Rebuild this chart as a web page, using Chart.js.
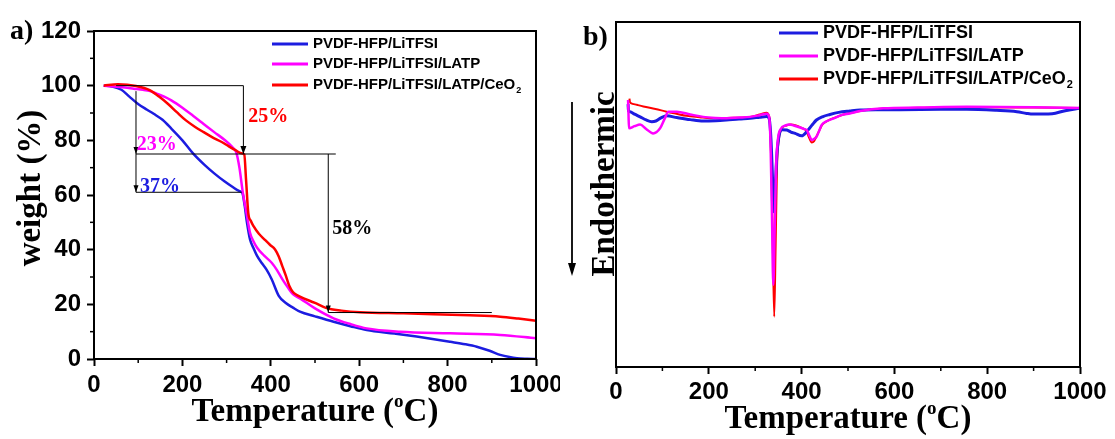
<!DOCTYPE html>
<html>
<head>
<meta charset="utf-8">
<script src="https://cdn.jsdelivr.net/npm/chart.js@4.4.0/dist/chart.umd.min.js"></script>
<style>
  html, body { margin: 0; padding: 0; background: #fff; }
  #wrap { position: relative; width: 1115px; height: 439px; overflow: hidden; background: #fff; }
  #wrap canvas { position: absolute; top: 0; }
  #tga { left: 0; width: 560px; height: 439px; }
  #dsc { left: 560px; width: 555px; height: 439px; }
</style>
</head>
<body>
<div id="wrap">
  <canvas id="tga" width="560" height="439"></canvas>
  <canvas id="dsc" width="555" height="439"></canvas>
</div>
<script>
// sample names, with the subscript part kept apart
const sampleNames = ['PVDF-HFP/LiTFSI', 'PVDF-HFP/LiTFSI/LATP', 'PVDF-HFP/LiTFSI/LATP/CeO'];
const sampleSubs = ['', '', '2'];
const sampleColors = ['#1c1ce0', '#ff00ff', '#ff0000'];

const tempTicks = [0, 200, 400, 600, 800, 1000];
const tempMinor = [100, 300, 500, 700, 900];
const weightTicks = [0, 20, 40, 60, 80, 100, 120];
const weightMinor = [10, 30, 50, 70, 90, 110];

// TGA curves: temperature (C) and weight (%)
const tgaTempLi = [22, 40, 62, 80, 99, 120, 135, 155, 175, 200, 224, 250, 272, 295, 313, 328, 336, 341, 346, 353,
  361, 369, 380, 390, 402, 418, 434, 450, 466, 500, 542, 580, 617, 680, 730, 806, 840, 866, 895, 919, 940, 957, 980, 1000];
const tgaWtLi = [100, 99.7, 98.5, 96, 93.4, 91.2, 89.7, 87.5, 84.3, 80, 75.2, 71, 67.9, 65, 63, 61.5, 60.6, 56, 50, 43.7,
  40.5, 37.7, 35, 32.8, 29.2, 23.1, 20.5, 18.8, 17.3, 15.6, 13.6, 12, 10.6, 9.3, 8.2, 6.3, 5.4, 4.5, 3, 1.5, 0.7, 0.3, 0.1, 0];

const tgaTempLatp = [22, 45, 70, 90, 111, 127, 143, 160, 175, 200, 224, 248, 272, 295, 313, 322, 329, 337, 345, 353,
  361, 369, 385, 402, 414, 426, 438, 450, 466, 500, 542, 580, 617, 693, 806, 919, 1000];
const tgaWtLatp = [100, 99.7, 99.3, 98.9, 98.5, 98, 97, 95.9, 94.6, 91.9, 89, 86, 83, 80.2, 77.5, 75.5, 70, 60.6, 53.5, 46.2,
  43, 40.7, 37.8, 35.2, 32.5, 29.2, 26.3, 23.7, 22.2, 18.5, 14.9, 12.8, 11.2, 10, 9.4, 8.8, 7.6];

const tgaTempCeo = [22, 54, 95, 127, 147, 167, 188, 208, 228, 248, 268, 289, 305, 321, 333, 340, 344, 349, 355, 361,
  373, 386, 398, 410, 418, 426, 434, 442, 450, 458, 466, 500, 526, 560, 602, 700, 768, 850, 919, 960, 1000];
const tgaWtCeo = [100, 100.5, 99.9, 98.3, 96, 93.4, 90.2, 87.3, 85, 83, 81.1, 79.4, 77.8, 76.3, 75.3, 74.8, 65.6, 53.5, 50.5, 48.6,
  45.8, 43.7, 41.8, 40, 37.5, 34, 30.5, 26.7, 24.5, 23.5, 22.8, 20.5, 18.6, 17.7, 17.1, 16.7, 16.4, 16, 15.5, 14.8, 14];

// DSC curves: temperature (C) and heat flow (arbitrary units)
const dscTempLi = [26, 27, 30, 40, 52, 65, 77, 86, 97, 109, 131, 160, 188, 215, 238, 265, 289, 310, 325, 330,
  334, 337, 340, 343, 347, 352, 358, 368, 377, 386, 400, 414, 423, 432, 446, 461, 480, 504, 526, 560,
  612, 700, 756, 820, 864, 885, 899, 920, 940, 968, 1000];
const dscHeatLi = [76.2, 74.2, 74.0, 73.3, 72.5, 71.6, 71.1, 71.3, 72.2, 72.8, 72.3, 71.7, 71.3, 71.4, 71.6, 71.9, 72.1, 72.4, 72.6, 72.0,
  66, 56, 45, 52, 62, 67.5, 68.8, 68.7, 68.1, 67.7, 67.0, 68.7, 70.2, 71.6, 72.6, 73.2, 73.8, 74.2, 74.5, 74.6,
  74.6, 74.7, 74.7, 74.4, 74.0, 73.5, 73.3, 73.3, 73.4, 74.3, 75.0];

const dscTempLatp = [26, 27, 28, 40, 52, 65, 80, 95, 105, 113, 131, 160, 188, 215, 238, 265, 289, 310, 325, 330,
  333, 336, 339, 342, 345, 349, 355, 365, 375, 383, 395, 405, 411, 417, 422, 428, 432, 438, 443, 455,
  468, 486, 504, 526, 576, 650, 756, 900, 1000];
const dscHeatLatp = [77.4, 73, 69.2, 69.8, 70.3, 69.0, 67.7, 69.2, 72.0, 74.0, 74.0, 73.2, 72.5, 72.2, 72.1, 72.3, 72.5, 73.0, 73.4, 72.5,
  65, 45, 23.8, 40, 58, 66, 69, 70, 70.3, 70, 69.5, 69, 68.7, 67, 65.8, 66.2, 66.7, 68.5, 70.1, 71.3,
  72, 73, 73.5, 74.2, 75, 75.2, 75.4, 75.3, 75.1];

const dscTempCeo = [29, 30, 32, 45, 59, 85, 109, 130, 152, 180, 203, 240, 289, 310, 325, 331, 334, 338, 341, 344,
  347, 351, 357, 367, 377, 388, 400, 410, 416, 422, 427, 432, 438, 445, 458, 470, 490, 510, 540, 600,
  700, 800, 900, 1000];
const dscHeatCeo = [77.8, 76.8, 76.5, 76.0, 75.5, 74.8, 74.0, 73.4, 72.8, 72.4, 72.1, 72.2, 72.5, 73.2, 73.7, 72, 62, 35, 14.6, 35,
  58, 66, 69, 70, 70.3, 70, 69.3, 68.5, 66.5, 65.1, 65.5, 66.8, 68.5, 70.3, 71.5, 72.2, 73.2, 73.8, 74.5, 75,
  75.2, 75.3, 75.2, 75.1];

// weight-loss markers on the TGA panel (weight levels, %)
const markTop = 100, markLeft = 98, markStep = 75, markLi = 61, markEnd = 17;
// marker temperatures (C)
const markLeftT = 95, markStepT = 338, markLiT = 334, markDropT = 530, markTopStartT = 50, markStepEndT = 547, markEndT = 900;

const serif = '"Liberation Serif", "Times New Roman", serif';
const sans = '"Liberation Sans", Arial, sans-serif';

function line(ctx, x1, y1, x2, y2) {
  ctx.beginPath(); ctx.moveTo(x1, y1); ctx.lineTo(x2, y2); ctx.stroke();
}
function arrowDown(ctx, x, y, w, h) {
  ctx.beginPath(); ctx.moveTo(x, y); ctx.lineTo(x - w / 2, y - h); ctx.lineTo(x + w / 2, y - h); ctx.closePath(); ctx.fill();
}

function fixedAxis(size, horizontal) {
  return scale => {
    if (horizontal) scale.height = size; else scale.width = size;
    scale.paddingLeft = scale.paddingRight = scale.paddingTop = scale.paddingBottom = 0;
  };
}

function makeSet(i, xs, ys, width, order) {
  return {
    label: sampleNames[i] + sampleSubs[i],
    data: xs.map((x, k) => ({ x, y: ys[k] })),
    borderColor: sampleColors[i],
    borderWidth: width,
    pointRadius: 0,
    fill: false,
    cubicInterpolationMode: 'monotone',
    order
  };
}

function tickAxis(min, max, values, size, padding) {
  return {
    type: 'linear', min, max,
    afterBuildTicks: s => { s.ticks = values.map(v => ({ value: v })); },
    grid: { drawOnChartArea: false, tickLength: 7, tickWidth: 2, tickColor: '#000' },
    border: { display: false },
    ticks: { color: '#000', padding, autoSkip: false, maxRotation: 0, font: { family: sans, size, weight: 'bold' }, callback: v => String(v) }
  };
}

function drawFrame(chart, minorX, minorY) {
  const { ctx, chartArea: a, scales } = chart;
  ctx.save();
  ctx.strokeStyle = '#000';
  ctx.lineWidth = 2;
  ctx.strokeRect(a.left, a.top, a.right - a.left, a.bottom - a.top);
  ctx.lineWidth = 1.5;
  minorX.forEach(v => { const x = scales.x.getPixelForValue(v); line(ctx, x, a.bottom, x, a.bottom + 4); });
  minorY.forEach(v => { const y = scales.y.getPixelForValue(v); line(ctx, a.left - 4, y, a.left, y); });
  ctx.restore();
}

function drawTempTitle(ctx, cx, baseline) {
  const big = 'bold 33px ' + serif, small = 'bold 19px ' + serif;
  const parts = [['Temperature (', big, 0], ['o', small, -14], ['C)', big, 0]];
  let total = 0;
  parts.forEach(p => { ctx.font = p[1]; total += ctx.measureText(p[0]).width; });
  let x = cx - total / 2;
  ctx.fillStyle = '#000';
  ctx.textAlign = 'left';
  ctx.textBaseline = 'alphabetic';
  parts.forEach(p => { ctx.font = p[1]; ctx.fillText(p[0], x, baseline + p[2]); x += ctx.measureText(p[0]).width; });
}

function rotatedText(ctx, text, cx, cy, font) {
  ctx.save();
  ctx.translate(cx, cy);
  ctx.rotate(-Math.PI / 2);
  ctx.font = font;
  ctx.fillStyle = '#000';
  ctx.textAlign = 'center';
  ctx.textBaseline = 'middle';
  ctx.fillText(text, 0, 0);
  ctx.restore();
}

function drawLegend(ctx, x0, x1, rows, size, lineW) {
  ctx.save();
  rows.forEach((y, i) => {
    ctx.strokeStyle = sampleColors[i];
    ctx.lineWidth = lineW;
    line(ctx, x0, y, x1, y);
    ctx.fillStyle = '#000';
    ctx.font = 'bold ' + size + 'px ' + sans;
    ctx.textAlign = 'left';
    ctx.textBaseline = 'middle';
    const tx = x1 + 5;
    ctx.fillText(sampleNames[i], tx, y);
    if (sampleSubs[i]) {
      const w = ctx.measureText(sampleNames[i]).width;
      ctx.font = 'bold ' + Math.round(size * 0.6) + 'px ' + sans;
      ctx.fillText(sampleSubs[i], tx + w + 1, y + size * 0.35);
    }
  });
  ctx.restore();
}

const tgaDecor = {
  id: 'tgaDecor',
  afterDraw(chart) {
    const { ctx } = chart;
    const sx = v => chart.scales.x.getPixelForValue(v);
    const sy = v => chart.scales.y.getPixelForValue(v);
    drawFrame(chart, tempMinor, weightMinor);

    // weight-loss guide lines and arrows
    ctx.save();
    ctx.strokeStyle = '#000';
    ctx.fillStyle = '#000';
    ctx.lineWidth = 1;
    line(ctx, sx(markTopStartT), sy(markTop), sx(markStepT), sy(markTop));
    line(ctx, sx(markStepT), sy(markTop), sx(markStepT), sy(markStep));
    arrowDown(ctx, sx(markStepT), sy(markStep), 6, 8);
    line(ctx, sx(markLeftT), sy(markLeft), sx(markLeftT), sy(markLi));
    arrowDown(ctx, sx(markLeftT), sy(markStep), 5, 7);
    arrowDown(ctx, sx(markLeftT), sy(markLi), 5, 7);
    line(ctx, sx(markLeftT), sy(markStep), sx(markStepEndT), sy(markStep));
    line(ctx, sx(markLeftT), sy(markLi), sx(markLiT), sy(markLi));
    line(ctx, sx(markDropT), sy(markStep), sx(markDropT), sy(markEnd));
    arrowDown(ctx, sx(markDropT), sy(markEnd), 5, 7);
    line(ctx, sx(markDropT), sy(markEnd), sx(markEndT), sy(markEnd));

    ctx.font = 'bold 20px ' + serif;
    ctx.textAlign = 'left';
    ctx.textBaseline = 'middle';
    ctx.fillStyle = sampleColors[2];
    ctx.fillText((markTop - markStep) + '%', sx(349), sy(88.5));
    ctx.fillStyle = sampleColors[1];
    ctx.fillText((markLeft - markStep) + '%', sx(97), sy(78.3));
    ctx.fillStyle = sampleColors[0];
    ctx.fillText((markLeft - markLi) + '%', sx(104), sy(63));
    ctx.fillStyle = '#000';
    ctx.fillText((markStep - markEnd) + '%', sx(539), sy(47.7));
    ctx.restore();

    drawLegend(ctx, 272, 308, [44, 64, 85], 15, 3);
    drawTempTitle(ctx, 315, 421);
    rotatedText(ctx, 'weight (%)', 31, 188, 'bold 33px ' + serif);
    ctx.save();
    ctx.fillStyle = '#000';
    ctx.font = 'bold 28px ' + serif;
    ctx.textAlign = 'left';
    ctx.textBaseline = 'alphabetic';
    ctx.fillText('a)', 10, 39);
    ctx.restore();
  }
};

const dscDecor = {
  id: 'dscDecor',
  afterDraw(chart) {
    const { ctx } = chart;
    drawFrame(chart, tempMinor, []);
    drawLegend(ctx, 219, 258, [33, 56, 79], 18, 3);
    drawTempTitle(ctx, 288, 428);
    rotatedText(ctx, 'Endothermic', 45, 184, 'bold 33px ' + serif);
    // endothermic direction arrow
    ctx.save();
    ctx.strokeStyle = '#000';
    ctx.fillStyle = '#000';
    ctx.lineWidth = 1.8;
    line(ctx, 12, 102, 12, 265);
    arrowDown(ctx, 12, 276, 8, 13);
    ctx.font = 'bold 28px ' + serif;
    ctx.textAlign = 'left';
    ctx.textBaseline = 'alphabetic';
    ctx.fillText('b)', 23, 45);
    ctx.restore();
  }
};

new Chart(document.getElementById('tga'), {
  type: 'line',
  data: {
    datasets: [
      makeSet(0, tgaTempLi, tgaWtLi, 2.5, 2),
      makeSet(1, tgaTempLatp, tgaWtLatp, 2.5, 1),
      makeSet(2, tgaTempCeo, tgaWtCeo, 2.5, 0)
    ]
  },
  options: {
    responsive: false,
    animation: false,
    events: [],
    layout: { padding: { left: 0, top: 31, right: 24, bottom: 0 } },
    plugins: { legend: { display: false }, tooltip: { enabled: false } },
    scales: {
      x: Object.assign(tickAxis(0, 1000, tempTicks, 24, 5), { afterFit: fixedAxis(80, true) }),
      y: Object.assign(tickAxis(0, 120, weightTicks, 24, 6), { afterFit: fixedAxis(94, false) })
    }
  },
  plugins: [tgaDecor]
});

new Chart(document.getElementById('dsc'), {
  type: 'line',
  data: {
    datasets: [
      makeSet(0, dscTempLi, dscHeatLi, 3, 1),
      makeSet(1, dscTempLatp, dscHeatLatp, 2.5, 0),
      makeSet(2, dscTempCeo, dscHeatCeo, 2, 2)
    ]
  },
  options: {
    responsive: false,
    animation: false,
    events: [],
    layout: { padding: { left: 56, top: 22, right: 35, bottom: 0 } },
    plugins: { legend: { display: false }, tooltip: { enabled: false } },
    scales: {
      x: Object.assign(tickAxis(0, 1000, tempTicks, 24, 4), { afterFit: fixedAxis(72, true) }),
      y: { type: 'linear', min: 0, max: 100, display: false }
    }
  },
  plugins: [dscDecor]
});
</script>
</body>
</html>
